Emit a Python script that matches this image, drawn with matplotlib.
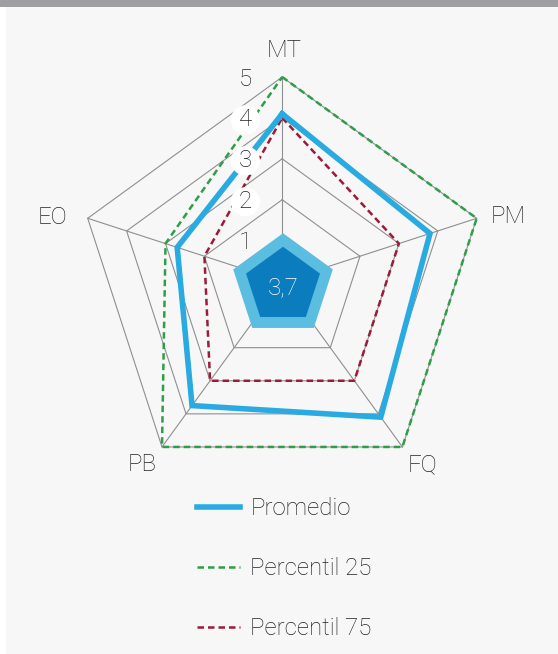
import matplotlib.pyplot as plt
import numpy as np
from matplotlib.patches import Rectangle, Polygon

plt.rcParams['font.family'] = ['Roboto', 'DejaVu Sans']

# Radar data
categories = ["MT", "PM", "FQ", "PB", "EO"]
promedio = [4.1, 3.8, 4.1, 3.75, 2.7]
percentil_25 = [5, 5, 5, 5, 3]
percentil_75 = [4, 3, 3, 3, 2]
ring_levels = [1, 2, 3, 4, 5]

BLUE = "#29abe2"
GREEN = "#2e9e48"
MAROON = "#9b1b3c"
GRID = "#8f8f8f"
TXT = "#222222"
FS = 17.3

n = len(categories)
theta = np.arange(n) * 2 * np.pi / n  # clockwise from top


def to_xy(values):
    v = np.asarray(values, dtype=float)
    x = v * np.sin(theta)
    y = v * np.cos(theta)
    return np.append(x, x[0]), np.append(y, y[0])


fig = plt.figure(figsize=(5.58, 6.54), dpi=100)
fig.patch.set_facecolor("white")
fig.patches.append(Rectangle((6 / 558, 0), 1, 1, transform=fig.transFigure,
                             facecolor="#f7f7f7", edgecolor="none", zorder=-2))
fig.patches.append(Rectangle((0, 1 - 7 / 654), 1, 7 / 654, transform=fig.transFigure,
                             facecolor="#9e9ea3", edgecolor="none", zorder=-1))

ax = fig.add_axes([0, 0, 1, 1])
ax.set_facecolor("none")
scale = 40.9  # pixels per unit
cx, cy = 282.2, 281.5
ax.set_xlim(-cx / scale, (558 - cx) / scale)
ax.set_ylim(-(654 - cy) / scale, cy / scale)
ax.axis("off")

# pentagon grid
for lvl in ring_levels:
    gx, gy = to_xy([lvl] * n)
    ax.plot(gx, gy, color=GRID, lw=0.8, zorder=1)
ox, oy = to_xy([max(ring_levels)] * n)
for x, y in zip(ox[:-1], oy[:-1]):
    ax.plot([0, x], [0, y], color=GRID, lw=0.8, zorder=1)

# central badge with the average score
bx, by = 0.02, -0.1
angs = np.pi / 2 - theta
ax.add_patch(Polygon(np.c_[bx + 1.28 * np.cos(angs), by + 1.28 * np.sin(angs)],
                     facecolor="#5bbde0", edgecolor="none", zorder=2))
ax.add_patch(Polygon(np.c_[bx + 0.95 * np.cos(angs), by + 0.95 * np.sin(angs)],
                     facecolor="#0b7dbf", edgecolor="none", zorder=3))
avg = f"{np.mean(promedio):.1f}".replace(".", ",")
ax.text(bx, by - 0.05, avg, color="white", fontsize=FS, fontweight="light",
        ha="center", va="center", zorder=4)

# series
x25, y25 = to_xy(percentil_25)
ax.plot(x25, y25, color=GREEN, lw=1.8, ls=(0, (2.6, 1.6)), zorder=5,
        label="Percentil 25")
x75, y75 = to_xy(percentil_75)
ax.plot(x75, y75, color=MAROON, lw=1.8, ls=(0, (2.6, 1.6)), zorder=6,
        label="Percentil 75")
xp, yp = to_xy(promedio)
ax.plot(xp, yp, color=BLUE, lw=4, solid_joinstyle="miter", zorder=7,
        label="Promedio")

# ring values
for lvl in ring_levels:
    bbox = None
    if 1 < lvl < 5:
        bbox = dict(boxstyle="circle,pad=0.13", facecolor="white", edgecolor="none")
    ax.text(-0.9, lvl - 0.05, str(lvl), fontsize=FS, fontweight="light", color=TXT,
            ha="center", va="center", bbox=bbox, zorder=8)

# axis labels
lx, ly = ox[:-1], oy[:-1]
ax.text(lx[0] + 0.05, ly[0] + 0.66, categories[0], fontsize=FS, fontweight="light",
        color=TXT, ha="center", va="center")
ax.text(lx[1] + 0.33, ly[1] + 0.05, categories[1], fontsize=FS, fontweight="light",
        color=TXT, ha="left", va="center")
ax.text(lx[2] + 0.12, ly[2] - 0.15, categories[2], fontsize=FS, fontweight="light",
        color=TXT, ha="left", va="top")
ax.text(lx[3] - 0.12, ly[3] - 0.15, categories[3], fontsize=FS, fontweight="light",
        color=TXT, ha="right", va="top")
ax.text(lx[4] - 0.49, ly[4] + 0.02, categories[4], fontsize=FS, fontweight="light",
        color=TXT, ha="right", va="center")

handles, labels = ax.get_legend_handles_labels()
order = [2, 0, 1]
leg = ax.legend([handles[i] for i in order], [labels[i] for i in order],
                loc="upper left", bbox_to_anchor=(197 / 558, 1 - 497 / 654),
                bbox_transform=fig.transFigure, frameon=False,
                prop=dict(family=["Roboto", "DejaVu Sans"], size=FS, weight="light"),
                handlelength=1.8, handletextpad=0.42, labelspacing=1.55,
                borderpad=0, borderaxespad=0)
for t in leg.get_texts():
    t.set_color(TXT)

fig.savefig("out.png", dpi=100, facecolor=fig.get_facecolor())
